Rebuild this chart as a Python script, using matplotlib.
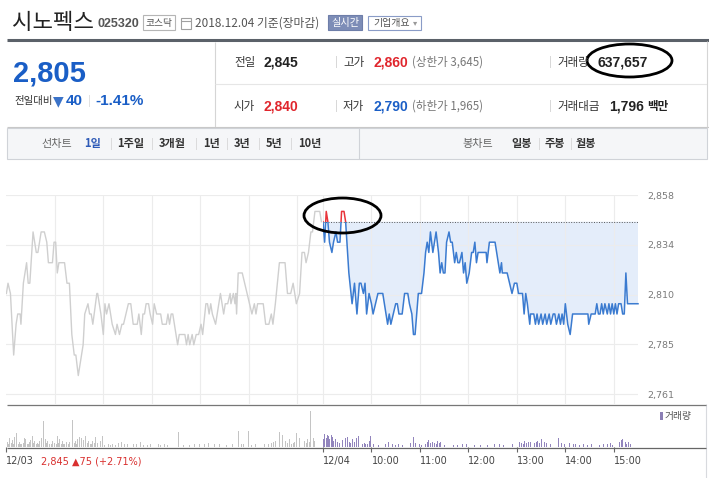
import numpy as np
import matplotlib
import matplotlib.pyplot as plt
from matplotlib.patches import Rectangle, Ellipse

plt.rcParams['font.family'] = ['Noto Sans CJK KR', 'DejaVu Sans']

# ---- data -------------------------------------------------------------
prev_close = 2845
day2_offset = 392          # x position (minutes) where the 12/04 session starts
x_max = 782

# 12/03 session: minute after 09:00, price
d1_min = [0, 2, 5, 9, 12, 14, 17, 18, 21, 25, 27, 29, 33, 37, 39, 43, 47, 50, 52, 57,
          59, 61, 63, 65, 72, 75, 78, 81, 84, 86, 89, 95, 97, 101, 103, 105, 107, 112, 113, 117,
          120, 122, 124, 127, 131, 135, 137, 140, 143, 145, 148, 151, 154, 157, 162, 164, 167, 169, 171, 173,
          176, 178, 181, 183, 186, 191, 193, 198, 200, 202, 204, 206, 208, 212, 214, 221, 223, 225, 227, 230,
          232, 235, 238, 241, 243, 247, 249, 251, 253, 255, 259, 265, 269, 271, 274, 277, 278, 281, 283, 284,
          285, 287, 292, 295, 298, 301, 304, 307, 309, 311, 318, 321, 325, 328, 330, 333, 338, 345, 348, 352,
          355, 357, 359, 363, 366, 369, 371, 374, 377, 379, 382, 388, 390]
d1_price = [2810, 2815, 2810, 2780, 2795, 2800, 2800, 2795, 2815, 2825, 2815, 2815, 2840, 2830, 2830, 2840, 2840, 2835, 2825, 2825,
            2835, 2835, 2820, 2825, 2825, 2815, 2815, 2790, 2780, 2780, 2770, 2785, 2800, 2805, 2800, 2800, 2795, 2810, 2810, 2800,
            2790, 2805, 2800, 2805, 2795, 2790, 2795, 2790, 2795, 2795, 2800, 2805, 2805, 2795, 2795, 2800, 2790, 2800, 2800, 2805,
            2805, 2800, 2795, 2805, 2800, 2800, 2795, 2795, 2800, 2795, 2800, 2800, 2795, 2785, 2790, 2790, 2785, 2790, 2785, 2790,
            2785, 2790, 2790, 2795, 2790, 2805, 2805, 2800, 2805, 2800, 2795, 2810, 2800, 2805, 2805, 2810, 2805, 2810, 2805, 2810,
            2800, 2820, 2820, 2815, 2810, 2805, 2800, 2805, 2800, 2805, 2805, 2795, 2795, 2800, 2795, 2805, 2825, 2825, 2810, 2810,
            2815, 2810, 2805, 2810, 2830, 2830, 2825, 2830, 2840, 2840, 2850, 2850, 2845]

# 12/04 session
d2_min = [0, 2, 4, 6, 8, 11, 13, 16, 18, 21, 23, 26, 28, 32, 36, 39, 42, 45, 47, 50,
          52, 54, 57, 60, 62, 65, 68, 74, 76, 78, 80, 82, 84, 87, 90, 92, 94, 98, 101, 105,
          107, 110, 112, 114, 118, 122, 125, 127, 129, 131, 133, 136, 138, 140, 143, 145, 147, 149, 151, 153,
          156, 158, 160, 163, 165, 167, 169, 172, 174, 176, 178, 181, 184, 186, 188, 190, 192, 202, 203, 206,
          213, 217, 219, 221, 222, 228, 231, 234, 237, 240, 242, 247, 249, 251, 253, 256, 257, 261, 263, 265,
          267, 270, 272, 275, 277, 280, 282, 285, 287, 289, 292, 294, 296, 298, 300, 303, 306, 309, 328, 329,
          332, 337, 339, 341, 343, 345, 347, 349, 352, 354, 356, 358, 360, 362, 364, 366, 369, 371, 373, 375,
          377, 390]
d2_price = [2845, 2835, 2850, 2845, 2835, 2830, 2835, 2840, 2835, 2835, 2850, 2850, 2845, 2820, 2805, 2815, 2800, 2815, 2815, 2810,
            2815, 2800, 2810, 2805, 2800, 2805, 2810, 2810, 2805, 2800, 2795, 2800, 2795, 2800, 2805, 2805, 2800, 2800, 2810, 2810,
            2805, 2800, 2790, 2790, 2810, 2810, 2820, 2830, 2835, 2830, 2840, 2830, 2835, 2840, 2830, 2820, 2825, 2820, 2820, 2835,
            2840, 2835, 2835, 2825, 2830, 2825, 2825, 2830, 2820, 2825, 2815, 2820, 2830, 2830, 2835, 2825, 2830, 2830, 2825, 2835,
            2835, 2825, 2820, 2825, 2820, 2820, 2815, 2810, 2815, 2815, 2810, 2810, 2800, 2810, 2805, 2795, 2800, 2800, 2795, 2800,
            2795, 2800, 2795, 2800, 2795, 2800, 2795, 2800, 2800, 2795, 2800, 2795, 2800, 2795, 2805, 2795, 2790, 2800, 2800, 2795,
            2800, 2800, 2805, 2800, 2800, 2805, 2800, 2805, 2800, 2805, 2800, 2805, 2800, 2805, 2800, 2805, 2805, 2800, 2800, 2820,
            2805, 2805]

# volume (shares per minute bar)
v1_min = [1, 2, 3, 4, 6, 7, 9, 10, 12, 13, 15, 16, 18, 19, 21, 22, 24, 26, 27, 29,
          30, 32, 34, 35, 37, 38, 40, 41, 43, 44, 46, 48, 50, 51, 53, 54, 56, 57, 59, 60,
          62, 63, 65, 66, 68, 69, 71, 72, 74, 75, 77, 78, 80, 82, 84, 85, 87, 88, 90, 91,
          93, 95, 96, 98, 100, 102, 104, 105, 107, 109, 110, 113, 116, 119, 122, 126, 129, 131, 135, 139,
          142, 146, 150, 153, 157, 161, 166, 170, 175, 178, 184, 188, 191, 196, 200, 205, 213, 219, 227, 233,
          239, 245, 250, 258, 264, 272, 280, 287, 291, 294, 300, 303, 308, 314, 320, 325, 328, 331, 333, 335,
          338, 340, 342, 345, 348, 350, 353, 355, 357, 359, 361, 363, 366, 369, 371, 373, 375, 377, 380, 382]
v1 = [3100, 7900, 2200, 6200, 2600, 4600, 1800, 6800, 3100, 9500, 2200, 3500, 1800, 2200, 2900, 6200, 5100, 1800, 2200, 3500,
      4400, 7700, 2600, 4000, 1800, 2400, 2200, 4000, 2900, 6200, 17200, 5100, 2600, 4000, 2200, 3500, 1800, 4000, 2600, 2900,
      1800, 7700, 2900, 5100, 2200, 4000, 1800, 2200, 3100, 5700, 2200, 3500, 1800, 18300, 2600, 4000, 2200, 5100, 6600, 2200,
      6200, 2900, 4400, 7300, 2600, 4000, 2200, 1800, 4000, 2600, 6800, 2900, 4000, 7300, 1300, 1800, 1300, 2200, 1300, 2600,
      3500, 1800, 2200, 2600, 1800, 2200, 3500, 1500, 1300, 2200, 1300, 1800, 1500, 2200, 1300, 1500, 9900, 1300, 1500, 1800,
      2200, 2000, 2600, 2200, 1800, 1500, 1800, 10600, 1800, 2200, 11000, 1300, 2200, 1500, 1800, 2200, 2600, 3100, 4000, 2200,
      10100, 3500, 8400, 4000, 2600, 5100, 2200, 2900, 3500, 9200, 2600, 6200, 12300, 4000, 2600, 5100, 3100, 24200, 6200, 4000]

v2_min = [0, 1, 2, 4, 5, 7, 8, 10, 12, 13, 15, 16, 18, 20, 21, 24, 26, 28, 30, 33,
          34, 36, 39, 42, 44, 47, 49, 51, 53, 55, 57, 59, 63, 69, 73, 77, 81, 86, 90, 94,
          98, 104, 108, 112, 115, 119, 122, 127, 129, 131, 133, 135, 138, 140, 142, 144, 146, 150, 156, 162,
          167, 173, 178, 187, 195, 204, 212, 218, 223, 229, 235, 243, 246, 248, 250, 252, 254, 257, 260, 262,
          264, 266, 268, 270, 274, 277, 282, 286, 291, 295, 299, 305, 310, 313, 318, 322, 328, 333, 338, 342,
          347, 352, 356, 358, 364, 367, 369, 371, 374, 376, 378, 381, 390]
v2 = [13400, 5100, 8800, 6200, 7900, 7300, 5500, 8400, 6600, 4000, 5100, 3100, 3500, 2600, 4000, 4400, 2900, 6200, 6800, 3500,
      2600, 5700, 3100, 6200, 7700, 3500, 2200, 2900, 2200, 1800, 4000, 7300, 1800, 1500, 2200, 1800, 3500, 2200, 1500, 2000,
      1500, 1800, 2400, 7000, 2900, 2200, 1500, 1800, 3100, 4800, 2600, 3500, 2900, 2200, 4000, 2600, 3500, 1300, 1500, 1300,
      1500, 2200, 1800, 1500, 1300, 1500, 1800, 2000, 1500, 2200, 1800, 3500, 2900, 2200, 4000, 2600, 3100, 3500, 2200, 2600,
      3100, 4000, 2900, 5100, 3500, 2900, 2200, 4000, 6200, 2900, 2200, 2400, 1800, 2200, 1300, 1800, 1500, 1800, 2200, 1500,
      2000, 2200, 2600, 1300, 2400, 3100, 4400, 5100, 3300, 2200, 3500, 1800, 2200]

y_ticks = [2761, 2785.25, 2809.5, 2833.75, 2858]
y_labels = ['2,761', '2,785', '2,810', '2,834', '2,858']
hour_min = [60, 120, 180, 240, 300, 360]
hour_labels = ['10:00', '11:00', '12:00', '13:00', '14:00', '15:00']

# ---- figure -----------------------------------------------------------
W, H = 709, 478
fig = plt.figure(figsize=(W / 100, H / 100), dpi=100)

def fbox(x0, y0, x1, y1):
    # pixel box (top-left origin) -> figure fraction rect
    return [x0 / W, 1 - y1 / H, (x1 - x0) / W, (y1 - y0) / H]

# price chart
ax = fig.add_axes(fbox(6.4, 195, 638, 404))
ax.set_xlim(0, x_max)
ax.set_ylim(2756.13, 2858)
grid_x = hour_min + [day2_offset] + [day2_offset + m for m in hour_min]
ax.set_xticks(grid_x)
ax.set_yticks(y_ticks)
ax.set_yticklabels(y_labels, family='DejaVu Sans')
ax.yaxis.tick_right()
ax.tick_params(axis='y', length=0, pad=6.5, labelsize=6.8, labelcolor='#7a7a7a')
ax.tick_params(axis='x', length=0, labelbottom=False)
ax.grid(color='#ececec', lw=0.8)
for s in ax.spines.values():
    s.set_visible(False)

ax.plot(d1_min, d1_price, color='#cfcfcf', lw=1.0)

x2 = day2_offset + np.array(d2_min)
p2 = np.array(d2_price)
ax.fill_between(x2, p2, prev_close, where=p2 <= prev_close, interpolate=True,
                color='#e4edfa', lw=0)
ax.plot([day2_offset, x_max], [prev_close, prev_close], color='#555555',
        ls=(0, (1, 1.6)), lw=0.7)
blue = ax.plot(x2, p2, color='#3b7bd0', lw=1.1)[0]
blue.set_clip_path(Rectangle((day2_offset, 2700), 500, prev_close - 2700, transform=ax.transData))
red = ax.plot(x2, p2, color='#e8343a', lw=1.1)[0]
red.set_clip_path(Rectangle((day2_offset, prev_close), 500, 100, transform=ax.transData))

# volume chart
axv = fig.add_axes(fbox(6.4, 404, 638, 447))
axv.set_xlim(0, x_max)
axv.set_ylim(0, 29000)
axv.bar(v1_min, v1, width=1.15, color='#c4c4c4', lw=0)
axv.bar(day2_offset + np.array(v2_min), v2, width=1.15, color='#9285bd', lw=0)
for s in axv.spines.values():
    s.set_visible(False)
axv.set_yticks([])
axv.set_xticks([0, day2_offset] + [day2_offset + m for m in hour_min])
axv.set_xticklabels(['12/03', '12/04'] + hour_labels, ha='left', family='DejaVu Sans')
axv.tick_params(axis='x', direction='out', length=3.6, width=0.8, color='#666666',
                pad=2.6, labelsize=7, labelcolor='#444444')

# overlay in pixel coordinates for the page parts
ov = fig.add_axes([0, 0, 1, 1])
ov.set_xlim(0, W)
ov.set_ylim(H, 0)
ov.axis('off')
ov.patch.set_alpha(0)

NUM = 'Liberation Sans'

def T(x, y, s, size, color='#333333', weight='normal', family=None, ha='left'):
    kw = {}
    if family:
        kw['family'] = family
    ov.text(x, y, s, fontsize=size, color=color, weight=weight, ha=ha, va='center', **kw)

def hline(y, x0, x1, color, lw=0.8):
    ov.plot([x0, x1], [y, y], color=color, lw=lw, solid_capstyle='butt')

def vline(x, y0, y1, color, lw=0.8):
    ov.plot([x, x], [y0, y1], color=color, lw=lw, solid_capstyle='butt')

# title row
T(12, 22, '시노펙스', 16, '#222222')
T(97, 23.5, '025320', 9, '#555555', 'bold', NUM)
ov.add_patch(Rectangle((143, 15), 32, 15, fc='white', ec='#b5b5b5', lw=0.8))
T(159, 22.5, '코스닥', 7, '#555555', ha='center')
ov.add_patch(Rectangle((181, 17.5), 10, 11, fc='white', ec='#a0a0a0', lw=0.8))
hline(20.5, 181, 191, '#a0a0a0', 0.8)
T(195, 23, '2018.12.04 기준(장마감)', 8.5, '#555555')
ov.add_patch(Rectangle((328, 15), 34, 15, fc='#7d8db7', ec='#6e7ea9', lw=0.8))
T(345, 22.5, '실시간', 7.3, 'white', ha='center')
ov.add_patch(Rectangle((368, 16), 53, 14, fc='white', ec='#8a9cc7', lw=0.8))
T(373, 23, '기업개요', 7.2, '#555555')
T(413, 23, '▾', 6, '#999999', family='DejaVu Sans')
hline(40, 7, 709, '#5b6169', 2.2)

# current price block
T(13, 73.5, '2,805', 21, '#1a5ec6', 'bold', NUM)
T(14, 101, '전일대비', 7.5, '#333333')
T(53, 101, '▼', 10, '#3b73c8', family='DejaVu Sans')
T(66, 101, '40', 11, '#1a5ec6', 'bold', NUM)
T(88, 101, '|', 8, '#d8d8d8')
T(95, 101, '-1.41%', 11, '#1a5ec6', 'bold', NUM)

# quote table
vline(215, 42, 127, '#d5d5d5')
hline(84, 215, 707, '#e6e6e6')
hline(127, 7, 709, '#c8c8c8')
vline(707, 41, 127, '#d5d5d5')
y1, y2 = 62, 106
T(234, y1, '전일', 8.3)
T(263, y1, '2,845', 10, '#222222', 'bold', NUM)
T(234, y2, '시가', 8.3)
T(263, y2, '2,840', 10, '#e0262d', 'bold', NUM)
for y in (y1, y2):
    T(335, y, '|', 8, '#cccccc')
    T(549, y, '|', 8, '#cccccc')
T(343, y1, '고가', 8.3)
T(374, y1, '2,860', 10, '#e0262d', 'bold', NUM)
T(412, y1, '(상한가 3,645)', 8.3, '#777777')
T(343, y2, '저가', 8.3)
T(374, y2, '2,790', 10, '#1a5ec6', 'bold', NUM)
T(412, y2, '(하한가 1,965)', 8.3, '#777777')
T(557, y1, '거래량', 8.3)
T(598, y1, '637,657', 10, '#222222', 'bold', NUM)
T(557, y2, '거래대금', 8.3)
T(609, y2, '1,796', 10, '#222222', 'bold', NUM)
T(647, y2, '백만', 8.3, '#222222', 'bold')

# period tabs
ov.add_patch(Rectangle((7, 128), 700, 31, fc='#f5f6f8', ec='#d0d3d8', lw=0.8))
vline(359, 128, 159, '#d0d3d8')
ty = 144
T(41, ty, '선차트', 8, '#666666')
T(84, ty, '1일', 8, '#2f5bb7', 'bold')
tabs = [(117, '1주일'), (159, '3개월'), (203, '1년'), (234, '3년'), (266, '5년'), (298, '10년')]
for (x, s), sx in zip(tabs, [110, 151, 195, 226, 258, 290]):
    T(sx, ty, '|', 7, '#cccccc')
    T(x, ty, s, 8, '#333333', 'bold')
T(462, ty, '봉차트', 8, '#666666')
T(511, ty, '일봉', 8, '#333333', 'bold')
T(538, ty, '|', 7, '#cccccc')
T(545, ty, '주봉', 8, '#333333', 'bold')
T(570, ty, '|', 7, '#cccccc')
T(576, ty, '월봉', 8, '#333333', 'bold')

# chart frame lines
vline(706, 404, 478, '#d8dade')
hline(404.5, 7, 706, '#777777', 0.9)
hline(447.5, 7, 706, '#666666', 0.9)
ov.add_patch(Rectangle((660, 412), 3, 8, fc='#8b7fb5', lw=0))
T(665, 416, '거래량', 7, '#555555')
T(41, 461, '2,845 ▲75 (+2.71%)', 7, '#d9302f', family=['DejaVu Sans'])

# hand drawn marks
ov.add_patch(Ellipse((342.5, 215.5), 77, 35, fill=False, ec='black', lw=2))
ov.add_patch(Ellipse((629.5, 60.5), 85, 33, fill=False, ec='black', lw=2))

fig.savefig('out.png', dpi=100)
